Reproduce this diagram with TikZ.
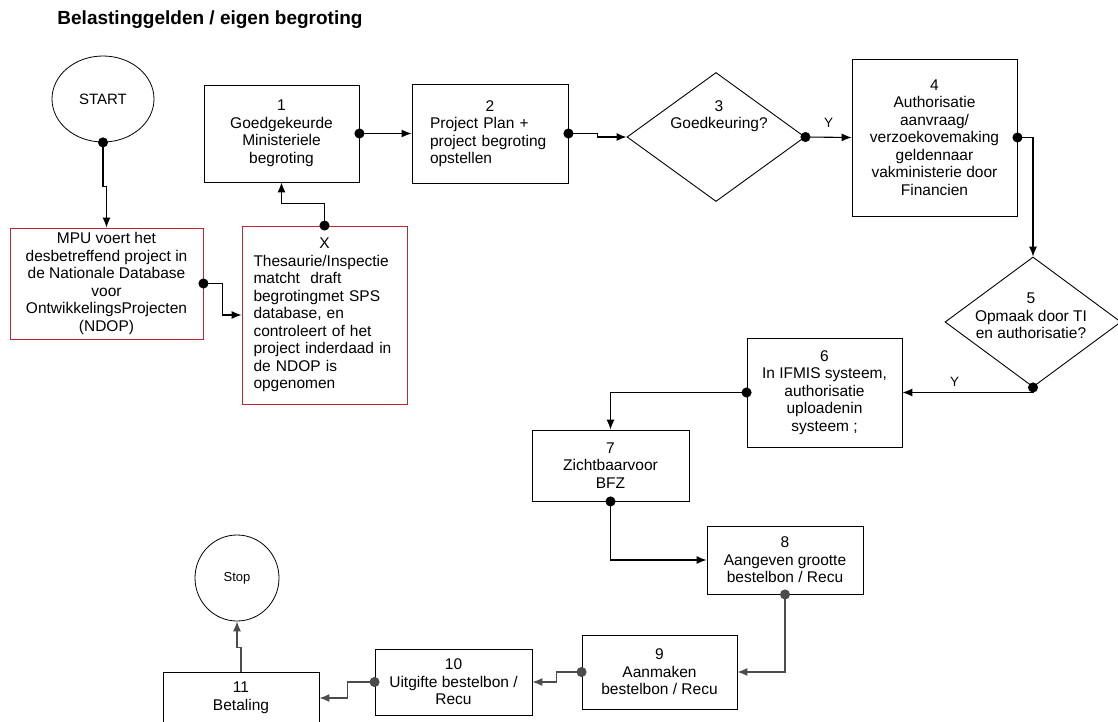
\documentclass[tikz,border=0pt]{standalone}
\usepackage{fontspec}
\setmainfont{Liberation Sans}
\usepackage{tikz}
\usetikzlibrary{arrows.meta,shapes.geometric,positioning,calc}
\definecolor{kaderrood}{RGB}{190,40,50}

\begin{document}
\begin{tikzpicture}[
    x=1pt, y=-1pt,
    stap/.style={draw, line width=0.9pt, align=center, inner sep=2pt, font=\fontsize{15.5}{17.5}\selectfont},
    kader/.style={stap, draw=kaderrood},
    keuze/.style={draw, diamond, line width=0.9pt, inner sep=0pt},
    rond/.style={draw, ellipse, line width=0.8pt, inner sep=0pt},
    txt/.style={align=center, font=\fontsize{15.5}{17.5}\selectfont},
    pijl/.style={{Circle[length=10pt]}-{Latex[length=10pt,width=8pt]}, line width=1.1pt, shorten <=-5pt},
    kaal/.style={-{Latex[length=10pt,width=8pt]}, line width=1.1pt},
    grijs/.style={color=black!70},
    ja/.style={font=\fontsize{13.5}{15}\selectfont}
]
\useasboundingbox (0,0) rectangle (1118,722);

\node[font=\bfseries\fontsize{19}{22}\selectfont] (titel) at (210,20) {Belastinggelden / eigen begroting};

\node[rond, minimum width=102, minimum height=86, font=\fontsize{15}{17}\selectfont] (start) at (103,99) {START};
\node[kader, minimum width=193, minimum height=111] (mpu) at (106.5,283.5) {MPU voert het\\desbetreffend project in\\de Nationale Database\\voor\\OntwikkelingsProjecten\\(NDOP)};
\node[kader, minimum width=165, minimum height=178, text width=142, align=left] (thes) at (324.5,315) {\makebox[142pt]{X}\\Thesaurie/Inspectie\\matcht\ \ draft\\begrotingmet SPS\\database, en\\controleert of het\\project inderdaad in\\de NDOP is\\opgenomen};
\node[stap, minimum width=155, minimum height=97] (b1) at (281.5,133.5) {1\\Goedgekeurde\\Ministeriele\\begroting};
\node[stap, minimum width=156, minimum height=99, text width=120, align=left] (b2) at (490,133.5) {\makebox[120pt]{2}\\Project Plan +\\project begroting\\opstellen};
\node[keuze, minimum width=178, minimum height=129] (d3) at (716,137) {};
\node[txt] (t3) at (719,116) {3\\Goedkeuring?};
\node[stap, minimum width=165, minimum height=157] (b4) at (934.5,137.5) {4\\Authorisatie\\aanvraag/\\verzoekovemaking\\geldennaar\\vakministerie door\\Financien};
\node[keuze, minimum width=176, minimum height=130] (d5) at (1033,322) {};
\node[txt] (t5) at (1031,316) {5\\Opmaak door TI\\en authorisatie?};
\node[stap, minimum width=155, minimum height=109] (b6) at (824.5,392.5) {6\\In IFMIS systeem,\\authorisatie\\uploadenin\\systeem ;};
\node[stap, minimum width=157, minimum height=71] (b7) at (610.5,465.5) {7\\Zichtbaarvoor\\BFZ};
\node[stap, minimum width=156, minimum height=68] (b8) at (785,560) {8\\Aangeven grootte\\bestelbon / Recu};
\node[stap, minimum width=155, minimum height=74] (b9) at (659.5,672) {9\\Aanmaken\\bestelbon / Recu};
\node[stap, minimum width=157, minimum height=66] (b10) at (453.5,682) {10\\Uitgifte bestelbon /\\Recu};
\node[stap, minimum width=156, minimum height=52] (b11) at (241,698) {11\\Betaling};
\node[rond, minimum width=84, minimum height=86, font=\fontsize{13}{15}\selectfont] (stop) at (237,578) {Stop};

% verbindingen
\draw[pijl] (start.south) -- ++(0,44) -| (mpu.north);
\draw[pijl] (mpu.east) -- ++(19,0) |- (thes.west);
\draw[pijl] (thes.north) -- ++(0,-22) -| (b1.south);
\draw[pijl] (b1.east) -- (b2.west);
\draw[pijl] (b2.east) -- ++(29,0) |- (d3.west);
\draw[pijl] (d3.east) -- node[ja, above=6pt] {Y} (b4.west);
\draw[pijl] (b4.east) -| (d5.north);
\draw[pijl] (d5.south) |- node[ja, above=2pt, pos=0.8] {Y} (b6.east);
\draw[pijl] (b6.west) -| (b7.north);
\draw[pijl] (b7.south) |- (b8.west);
\draw[pijl, grijs] (b8.south) |- (b9.east);
\draw[pijl, grijs] (b9.west) -- ++(-25,0) |- (b10.east);
\draw[pijl, grijs] (b10.west) -- ++(-27,0) |- (b11.east);
\draw[kaal, grijs] (b11.north) -- ++(0,-24) -| (stop.south);
\end{tikzpicture}
\end{document}
